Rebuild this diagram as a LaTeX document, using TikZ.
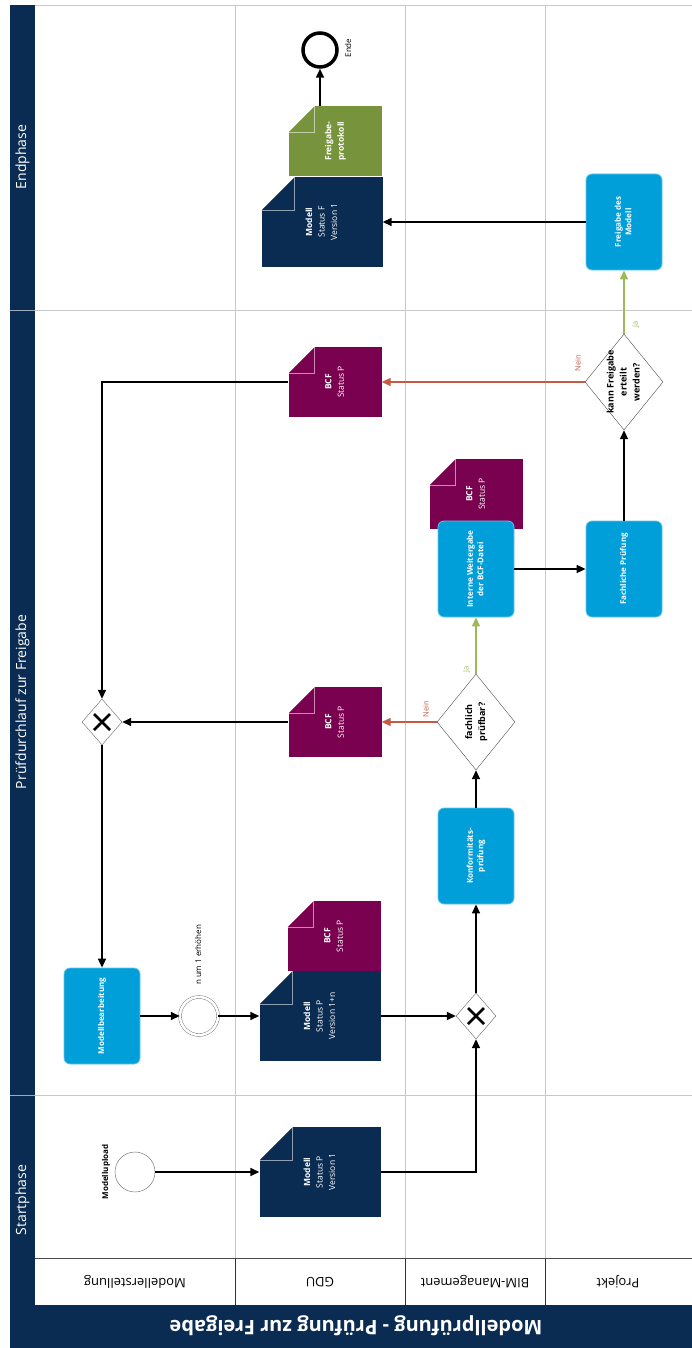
\documentclass[tikz,border=0pt]{standalone}
\usepackage{fontspec}
\setmainfont{Open Sans}
\usepackage{xcolor}
\usepackage{tikz}
\usetikzlibrary{arrows.meta,shapes.geometric}

\definecolor{bimnavy}{HTML}{0B2C52}
\definecolor{taskblue}{HTML}{009FDA}
\definecolor{bcfpurple}{HTML}{7A0050}
\definecolor{protgreen}{HTML}{77933C}
\definecolor{neinred}{HTML}{C55A45}
\definecolor{jagreen}{HTML}{9BBB59}
\definecolor{laneline}{HTML}{C8C8C8}

\newcommand{\sidetext}[1]{\rotatebox{90}{\begin{tabular}{@{}c@{}}#1\end{tabular}}}
\newcommand{\flipped}[1]{\rotatebox{180}{#1}}

\tikzset{
    task/.style={rectangle, rounded corners=6pt, fill=taskblue, draw=taskblue!60!white,
        line width=0.8pt, text=white, font=\fontsize{8}{10.5}\selectfont\bfseries,
        minimum width=76pt, minimum height=96pt, inner sep=0pt},
    foldcorner/.style={path picture={
        \fill[white] (path picture bounding box.north west)
            -- ([xshift=#1]path picture bounding box.north west)
            -- ([yshift=-#1]path picture bounding box.north west) -- cycle;
        \draw[white, opacity=0.55, line width=0.8pt]
            ([yshift=-#1]path picture bounding box.north west)
            -| ([xshift=#1]path picture bounding box.north west);}},
    document/.style={rectangle, inner sep=0pt, text=white,
        font=\fontsize{8.5}{12.5}\selectfont, fill=#1},
    bigdoc/.style={document=#1, minimum width=121pt, minimum height=90pt, foldcorner=33pt},
    smalldoc/.style={document=#1, minimum width=93pt, minimum height=70pt, foldcorner=26pt},
    gateway/.style={diamond, draw=black!60, fill=white, minimum width=40pt,
        minimum height=46pt, inner sep=0pt, path picture={
        \draw[black, line width=2.8pt]
            ([xshift=-8pt,yshift=-8pt]path picture bounding box.center)
            -- ([xshift=8pt,yshift=8pt]path picture bounding box.center)
            ([xshift=-8pt,yshift=8pt]path picture bounding box.center)
            -- ([xshift=8pt,yshift=-8pt]path picture bounding box.center);}},
    decision/.style={diamond, draw=black!70, fill=white, minimum width=78pt,
        minimum height=96pt, inner sep=0pt},
    decisiontext/.style={font=\fontsize{9}{13}\selectfont\bfseries},
    startev/.style={circle, draw=black!60, fill=white, minimum size=40pt, inner sep=0pt},
    midev/.style={circle, draw=black!60, double, double distance=2.5pt, fill=white,
        minimum size=38pt, inner sep=0pt},
    endev/.style={circle, draw=black, line width=3.5pt, fill=white, minimum size=34pt,
        inner sep=0pt},
    flow/.style={line width=1.6pt, -{Triangle[length=9pt,width=8pt]}},
    nein/.style={flow, draw=neinred, line width=1.3pt},
    ja/.style={flow, draw=jagreen, line width=1.3pt},
    flowtag/.style={font=\fontsize{7.5}{9}\selectfont, inner sep=1pt},
    eventtag/.style={font=\fontsize{8}{10}\selectfont, inner sep=1pt},
    lanelabel/.style={font=\fontsize{13}{15}\selectfont},
    phaselabel/.style={text=white, font=\fontsize{14}{16}\selectfont},
}

\begin{document}
\begin{tikzpicture}[x=1pt, y=-1pt]

    \useasboundingbox (0,0) rectangle (692,1348);

    % Pool frame and phases
    \fill[bimnavy] (10,5) rectangle (35,1305);
    \fill[bimnavy] (10,1305) rectangle (692,1348);
    \draw[laneline] (35,5) -- (692,5);
    \foreach \y in {310,1095} {
        \draw[laneline] (35,\y) -- (692,\y);
        \draw[white!60!bimnavy] (10,\y) -- (35,\y);
    }

    % Lanes
    \foreach \x in {235,405,545}
        \draw[laneline] (\x,5) -- (\x,1258);
    \draw[black!70] (35,1258) -- (692,1258);
    \foreach \x in {235,405,545}
        \draw[black!80] (\x,1258) -- (\x,1305);

    % Labels
    \node[lanelabel] (lane1) at (135,1282) {\flipped{Modellerstellung}};
    \node[lanelabel] (lane2) at (320,1282) {\flipped{GDU}};
    \node[lanelabel] (lane3) at (475,1282) {\flipped{BIM-Management}};
    \node[lanelabel] (lane4) at (618,1282) {\flipped{Projekt}};
    \node[text=white, font=\fontsize{20}{24}\selectfont\bfseries] (title) at (356,1326)
        {\flipped{Modellprüfung - Prüfung zur Freigabe}};
    \node[phaselabel] (phase1) at (23,1200) {\sidetext{Startphase}};
    \node[phaselabel] (phase2) at (23,702) {\sidetext{Prüfdurchlauf zur Freigabe}};
    \node[phaselabel] (phase3) at (23,157) {\sidetext{Endphase}};

    % Start phase
    \node[startev] (upload) at (135,1172) {};
    \node[eventtag, font=\fontsize{8}{10}\selectfont\bfseries] (uploadtag) at (106,1172)
        {\sidetext{Modellupload}};
    \node[bigdoc=bimnavy] (model1) at (320,1172)
        {\sidetext{\textbf{Modell}\\Status P\\Version 1}};

    % Check loop
    \node[task] (edit) at (102,1016) {\sidetext{Modellbearbeitung}};
    \node[midev] (raise) at (199,1016) {};
    \node[eventtag] (raisetag) at (199,955) {\sidetext{n um 1 erhöhen}};
    \node[smalldoc=bcfpurple] (bcf1) at (334,936) {\sidetext{\textbf{BCF}\\Status P}};
    \node[bigdoc=bimnavy] (model2) at (320,1016)
        {\sidetext{\textbf{Modell}\\Status P\\Version 1+n}};
    \node[gateway] (merge1) at (476,1016) {};
    \node[task] (konf) at (476,856) {\sidetext{Konformitäts-\\prüfung}};
    \node[decision, label={[name=check1tag, decisiontext]center:%
        \sidetext{fachlich\\prüfbar?}}] (check1) at (476,722) {};
    \node[smalldoc=bcfpurple] (bcf2) at (335,722) {\sidetext{\textbf{BCF}\\Status P}};
    \node[gateway] (merge2) at (102,722) {};
    \node[smalldoc=bcfpurple] (bcf4) at (476,494) {\sidetext{\textbf{BCF}\\Status P}};
    \node[task] (intern) at (476,569) {\sidetext{Interne Weitergabe\\der BCF-Datei}};
    \node[task] (fach) at (624,569) {\sidetext{Fachliche Prüfung}};
    \node[decision, label={[name=check2tag, decisiontext]center:%
        \sidetext{kann Freigabe\\erteilt\\werden?}}] (check2) at (624,382) {};
    \node[smalldoc=bcfpurple] (bcf3) at (335,382) {\sidetext{\textbf{BCF}\\Status P}};

    % End phase
    \node[task] (release) at (624,222) {\sidetext{Freigabe des\\Modell}};
    \node[bigdoc=bimnavy] (modelF) at (322,222)
        {\sidetext{\textbf{Modell}\\Status F\\Version 1}};
    \node[smalldoc=protgreen] (protocol) at (335,141)
        {\sidetext{\textbf{Freigabe-}\\\textbf{protokoll}}};
    \node[endev] (ende) at (320,50) {};
    \node[eventtag] (endetag) at (349,48) {\sidetext{Ende}};

    % Sequence flows
    \draw[flow] (upload) -- (model1);
    \draw[flow] (model1.east) -| (merge1.south);
    \draw[flow] (edit) -- (raise);
    \draw[flow] (raise) -- (model2);
    \draw[flow] (model2) -- (merge1);
    \draw[flow] (merge1) -- (konf);
    \draw[flow] (konf) -- (check1);
    \draw[nein] (check1.west) -- (bcf2.east)
        node[name=nein1, flowtag, text=neinred, pos=0.18, above=3pt] {\sidetext{Nein}};
    \draw[flow] (bcf2) -- (merge2);
    \draw[ja] (check1.north) -- (intern.south)
        node[name=ja1, flowtag, text=jagreen, pos=0.08, left=3pt] {\sidetext{Ja}};
    \draw[flow] (intern) -- (fach);
    \draw[flow] (fach) -- (check2);
    \draw[nein] (check2.west) -- (bcf3.east)
        node[name=nein2, flowtag, text=neinred, pos=0.03, above=9pt] {\sidetext{Nein}};
    \draw[flow] (bcf3.west) -| (merge2.north);
    \draw[flow] (merge2) -- (edit);
    \draw[ja] (check2.north) -- (release.south)
        node[name=ja2, flowtag, text=jagreen, pos=0.15, right=6pt] {\sidetext{Ja}};
    \draw[flow] (release) -- (modelF);
    \draw[flow] (ende |- protocol.north) -- (ende);

\end{tikzpicture}
\end{document}
